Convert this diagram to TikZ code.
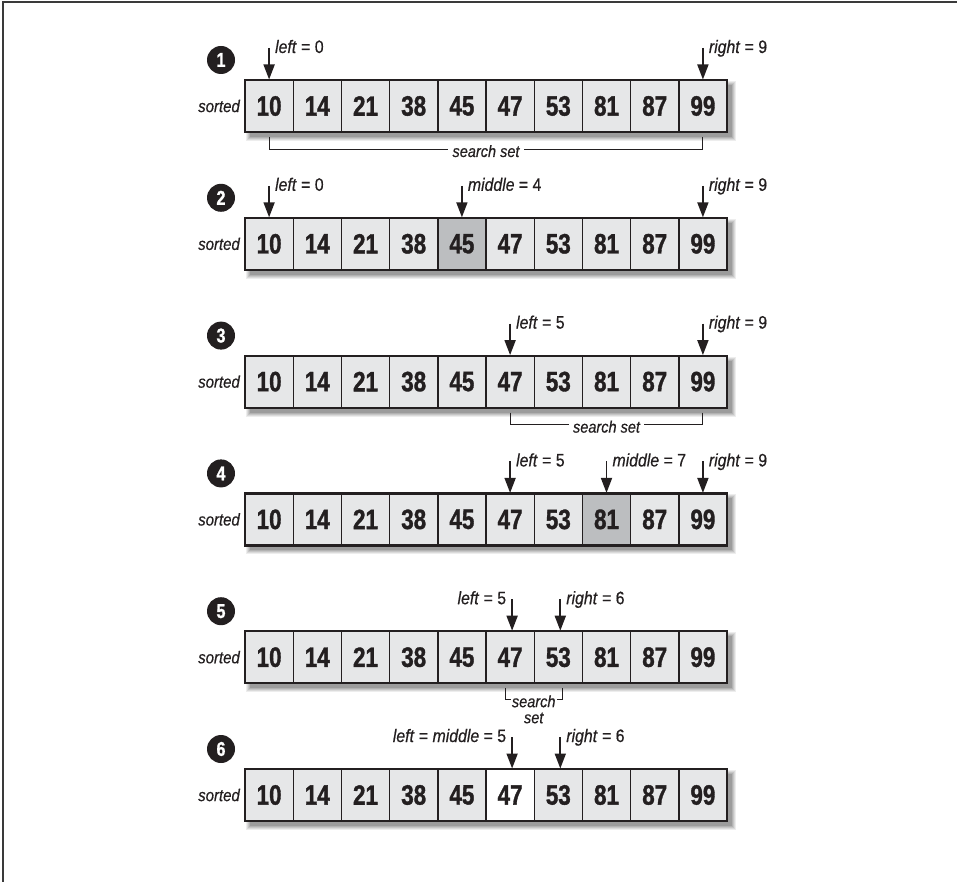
\documentclass[tikz,border=0pt]{standalone}
\usepackage{fontspec}
\setmainfont{Liberation Sans}
\newfontfamily\numfont{Liberation Sans}[FakeStretch=0.8, FakeBold=1.2]
\newfontfamily\labfont{Liberation Sans}[FakeStretch=0.88, FakeBold=0.5]
\usetikzlibrary{arrows.meta,calc}
\definecolor{cellgray}{HTML}{E6E7E8}
\definecolor{midgray}{HTML}{BCBEC0}
\definecolor{ink}{HTML}{231F20}
\definecolor{framegray}{HTML}{3A3A3A}
\newcommand\varn[1]{\textit{#1}}
\begin{document}
\begin{tikzpicture}[x=1pt,y=-1pt,
  cell/.style={draw=ink, line width=1.4pt, minimum width=48.2pt, minimum height=52pt,
    inner sep=0pt, outer sep=0pt, text=ink,
    font=\numfont\bfseries\fontsize{28}{28}\selectfont},
  lab/.style={inner sep=0pt, outer sep=0pt, text=ink,
    font=\labfont\fontsize{18}{18}\selectfont},
  sortlab/.style={inner sep=0pt, text=ink,
    font=\labfont\itshape\fontsize{17}{17}\selectfont},
  sslab/.style={inner ysep=0pt, inner xsep=4pt, text=ink,
    font=\labfont\itshape\fontsize{16.5}{16.5}\selectfont},
  stepnum/.style={circle, fill=ink, minimum size=28pt, inner sep=0pt, text=white,
    font=\numfont\bfseries\fontsize{20}{20}\selectfont},
  ptr/.style={draw=ink, line width=1.8pt, -{Triangle[width=11pt,length=15pt]}, shorten >=0.5pt},
  bracket/.style={draw=ink, line width=0.9pt}
]
\useasboundingbox (0,0) rectangle (957,882);
% frame
\draw[framegray, line width=2pt] (2.5,882) -- (2.5,2.5) -- (957,2.5);

\foreach \r/\hc/\hcol in {1/-1/cellgray, 2/4/midgray, 3/-1/cellgray, 4/7/midgray, 5/-1/cellgray, 6/5/white}{
  \pgfmathsetmacro\rtop{80+137.8*(\r-1)}
  % shadow
  \foreach \s/\o in {4/0.07,3/0.08,2/0.09,1/0.10,0/0.12}
    \fill[black, opacity=\o] (245+5-\s,\rtop+5-\s) rectangle (727+5+\s,\rtop+52+5+\s);
  \foreach \val [count=\i from 0] in {10,14,21,38,45,47,53,81,87,99}{
    \ifnum\i=\hc \def\cf{\hcol}\else\def\cf{cellgray}\fi
    \node[cell, fill=\cf] (r\r-\i) at (245+48.2*\i+24.1, \rtop+26) {\val};
  }
  \draw[ink, line width=2.2pt] (r\r-0.north west) rectangle (r\r-9.south east);
  \node[sortlab, anchor=east] (s\r) at (240, \rtop+26) {sorted};
  \node[stepnum] (n\r) at (221, \rtop-20) {\r};
}

% ---------- row 1
\coordinate (a1l) at ($(r1-0.north)+(0,-32)$);
\coordinate (a1r) at ($(r1-9.north)+(0,-32)$);
\draw[ptr] (a1l) -- (r1-0.north);
\draw[ptr] (a1r) -- (r1-9.north);
\node[lab, anchor=base west] (l1l) at ($(a1l)+(6,5)$) {\varn{left} = 0};
\node[lab, anchor=base west] (l1r) at ($(a1r)+(6,5)$) {\varn{right} = 9};
\coordinate (b1l) at ($(r1-0.south)+(0,5)$);
\coordinate (b1r) at ($(r1-9.south)+(0,5)$);
\coordinate (c1l) at ($(b1l)+(0,12)$);
\coordinate (c1r) at ($(b1r)+(0,12)$);
\node[sslab, anchor=base] (ss1) at ($(c1l)!0.5!(c1r)+(0,8)$) {search set};
\draw[bracket] (b1l) -- (c1l) -- (c1l -| ss1.west);
\draw[bracket] (b1r) -- (c1r) -- (c1r -| ss1.east);

% ---------- row 2
\coordinate (a2l) at ($(r2-0.north)+(0,-32)$);
\coordinate (a2m) at ($(r2-4.north)+(0,-32)$);
\coordinate (a2r) at ($(r2-9.north)+(0,-32)$);
\draw[ptr] (a2l) -- (r2-0.north);
\draw[ptr] (a2m) -- (r2-4.north);
\draw[ptr] (a2r) -- (r2-9.north);
\node[lab, anchor=base west] (l2l) at ($(a2l)+(6,5)$) {\varn{left} = 0};
\node[lab, anchor=base west] (l2m) at ($(a2m)+(6,5)$) {\varn{middle} = 4};
\node[lab, anchor=base west] (l2r) at ($(a2r)+(6,5)$) {\varn{right} = 9};

% ---------- row 3
\coordinate (a3l) at ($(r3-5.north)+(0,-32)$);
\coordinate (a3r) at ($(r3-9.north)+(0,-32)$);
\draw[ptr] (a3l) -- (r3-5.north);
\draw[ptr] (a3r) -- (r3-9.north);
\node[lab, anchor=base west] (l3l) at ($(a3l)+(6,5)$) {\varn{left} = 5};
\node[lab, anchor=base west] (l3r) at ($(a3r)+(6,5)$) {\varn{right} = 9};
\coordinate (b3l) at ($(r3-5.south)+(0,5)$);
\coordinate (b3r) at ($(r3-9.south)+(0,5)$);
\coordinate (c3l) at ($(b3l)+(0,12)$);
\coordinate (c3r) at ($(b3r)+(0,12)$);
\node[sslab, anchor=base] (ss3) at ($(c3l)!0.5!(c3r)+(0,8)$) {search set};
\draw[bracket] (b3l) -- (c3l) -- (c3l -| ss3.west);
\draw[bracket] (b3r) -- (c3r) -- (c3r -| ss3.east);

% ---------- row 4
\coordinate (a4l) at ($(r4-5.north)+(0,-32)$);
\coordinate (a4m) at ($(r4-7.north)+(0,-32)$);
\coordinate (a4r) at ($(r4-9.north)+(0,-32)$);
\draw[ptr] (a4l) -- (r4-5.north);
\draw[ptr] (a4m) -- (r4-7.north);
\draw[ptr] (a4r) -- (r4-9.north);
\node[lab, anchor=base west] (l4l) at ($(a4l)+(6,5)$) {\varn{left} = 5};
\node[lab, anchor=base west] (l4m) at ($(a4m)+(6,5)$) {\varn{middle} = 7};
\node[lab, anchor=base west] (l4r) at ($(a4r)+(6,5)$) {\varn{right} = 9};

% ---------- row 5
\coordinate (a5l) at ($(r5-5.north)+(2,-32)$);
\coordinate (a5r) at ($(r5-6.north)+(2,-32)$);
\draw[ptr] (a5l) -- (a5l |- r5-5.north);
\draw[ptr] (a5r) -- (a5r |- r5-6.north);
\node[lab, anchor=base east] (l5l) at ($(a5l)+(-6,5)$) {\varn{left} = 5};
\node[lab, anchor=base west] (l5r) at ($(a5r)+(6,5)$) {\varn{right} = 6};
\coordinate (b5l) at ($(r5-5.south)+(-5,5)$);
\coordinate (b5r) at ($(r5-6.south)+(4,5)$);
\coordinate (c5l) at ($(b5l)+(0,11)$);
\coordinate (c5r) at ($(b5r)+(0,11)$);
\node[sslab, inner xsep=1pt, anchor=base] (ss5a) at ($(c5l)!0.5!(c5r)+(0,8)$) {search};
\node[sslab, anchor=base] (ss5b) at ($(ss5a.base)+(0,16)$) {set};
\draw[bracket] (b5l) -- (c5l) -- (c5l -| ss5a.west);
\draw[bracket] (b5r) -- (c5r) -- (c5r -| ss5a.east);

% ---------- row 6
\coordinate (a6l) at ($(r6-5.north)+(2,-32)$);
\coordinate (a6r) at ($(r6-6.north)+(2,-32)$);
\draw[ptr] (a6l) -- (a6l |- r6-5.north);
\draw[ptr] (a6r) -- (a6r |- r6-6.north);
\node[lab, anchor=base east] (l6l) at ($(a6l)+(-6,5)$) {\varn{left} = \varn{middle} = 5};
\node[lab, anchor=base west] (l6r) at ($(a6r)+(6,5)$) {\varn{right} = 6};
\end{tikzpicture}
\end{document}
